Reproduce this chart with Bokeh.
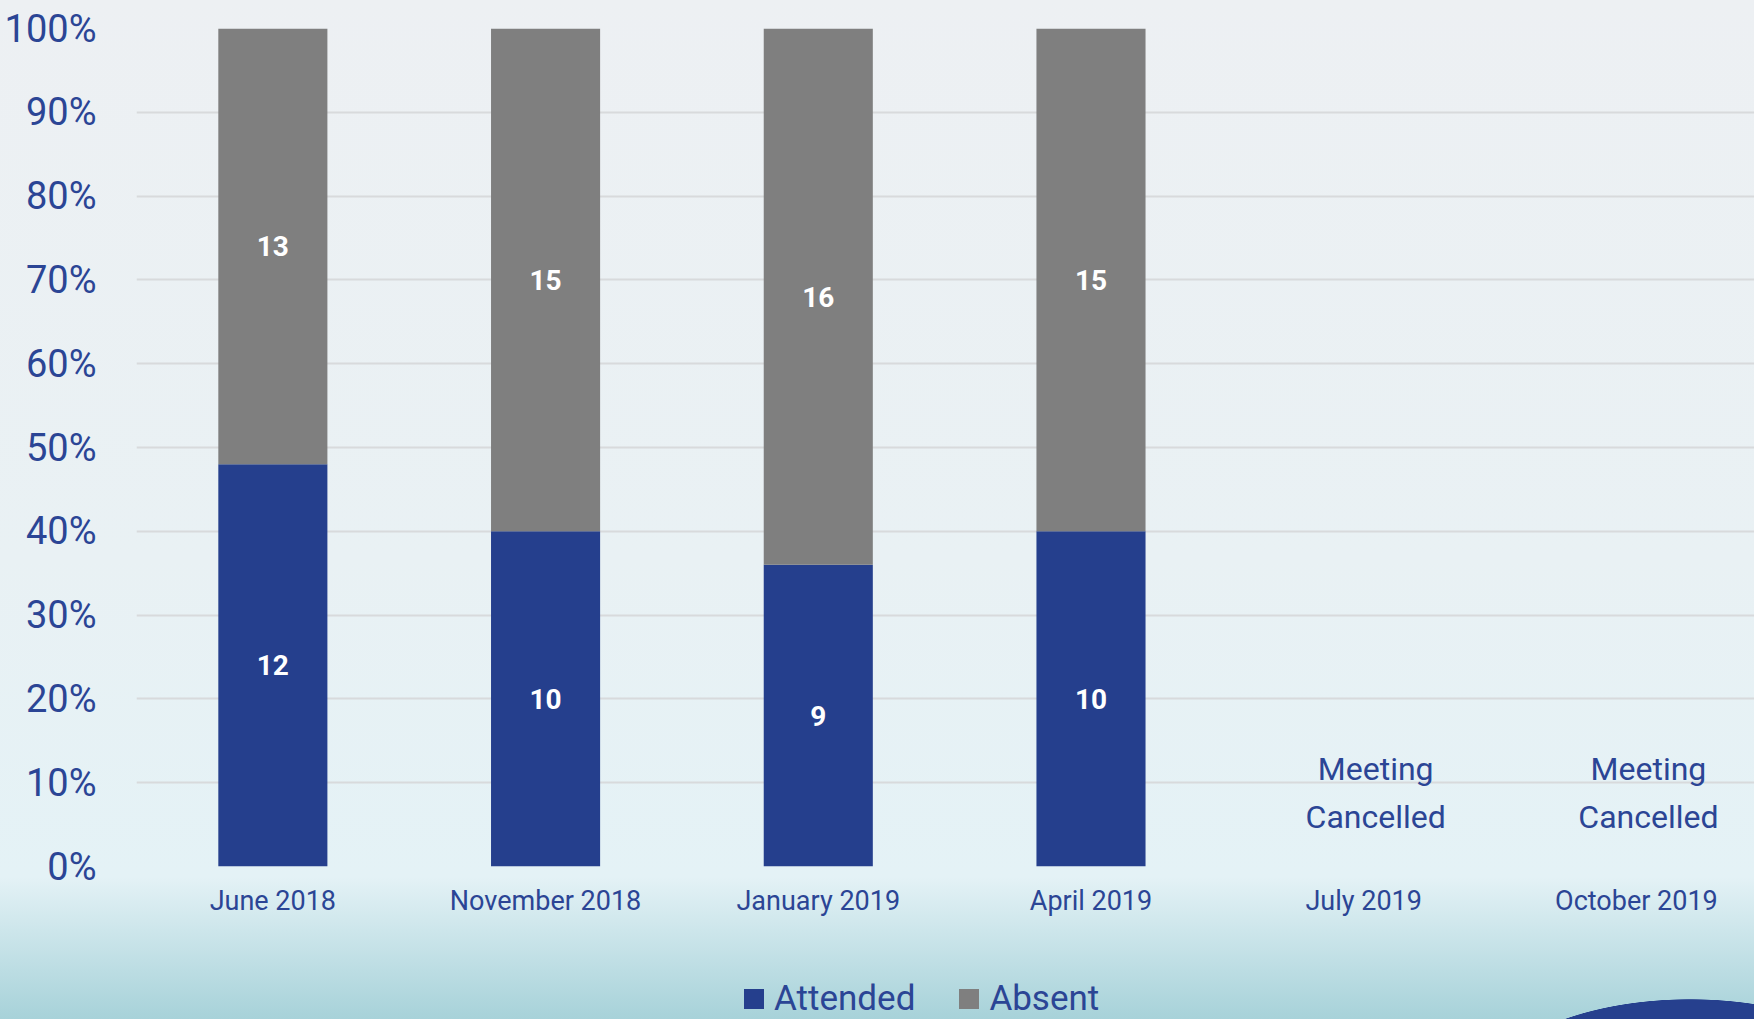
from bokeh.plotting import figure
from bokeh.layouts import column
from bokeh.models import (Range1d, FixedTicker, NumeralTickFormatter, Legend,
                          LegendItem, ColumnDataSource)
from bokeh.core.properties import value
from bokeh.embed import file_html
from bokeh.resources import INLINE

# ---- data ----
categories = ["June 2018", "November 2018", "January 2019", "April 2019",
              "July 2019", "October 2019"]
attended = [12, 10, 9, 10, 0, 0]
absent = [13, 15, 16, 15, 0, 0]
notes = ["", "", "", "", "Meeting\nCancelled", "Meeting\nCancelled"]
y_ticks = [0, 0.1, 0.2, 0.3, 0.4, 0.5, 0.6, 0.7, 0.8, 0.9, 1.0]
series = ["Attended", "Absent"]

BLUE = "#253F8D"
GREY = "#7F7F7F"
TXT = "#2B4595"
FONT = "Roboto"

W = 1754
H_MAIN, H_LEG = 940, 79

held_x, att_top, abs_top, att_mid, abs_mid, att_lbl, abs_lbl = [], [], [], [], [], [], []
for i, (a, b) in enumerate(zip(attended, absent)):
    t = a + b
    if t == 0:
        continue
    held_x.append(i)
    att_top.append(a / t)
    abs_top.append(1.0)
    att_mid.append(a / t / 2)
    abs_mid.append(a / t + b / t / 2)
    att_lbl.append(str(a))
    abs_lbl.append(str(b))

src = ColumnDataSource(dict(x=held_x, att_top=att_top, abs_top=abs_top,
                            att_mid=att_mid, abs_mid=abs_mid,
                            att_lbl=att_lbl, abs_lbl=abs_lbl))

note_x = [i for i, n in enumerate(notes) if n]
note_t = [n for n in notes if n]
note_src = ColumnDataSource(dict(x=note_x, y=[0.088] * len(note_x), t=note_t))

p = figure(width=W, height=H_MAIN, output_backend="svg", toolbar_location=None,
           x_range=Range1d(-0.5, 5.433), y_range=Range1d(0, 1),
           min_border_left=136, min_border_right=0, min_border_top=28,
           min_border_bottom=74)
p.background_fill_alpha = 0
p.border_fill_alpha = 0
p.outline_line_color = None

p.vbar(x="x", bottom=0, top="att_top", width=0.4, source=src,
       fill_color=BLUE, line_color=None)
p.vbar(x="x", bottom="att_top", top="abs_top", width=0.4, source=src,
       fill_color=GREY, line_color=None)

for ycol, tcol in (("att_mid", "att_lbl"), ("abs_mid", "abs_lbl")):
    p.text(x="x", y=ycol, text=tcol, source=src, text_color="white",
           text_font=value(FONT), text_font_style="bold",
           text_font_size="28px", text_align="center", text_baseline="middle")

p.text(x="x", y="y", text="t", source=note_src, text_color=TXT,
       text_font=value(FONT), text_font_size="32px", text_align="center",
       text_baseline="middle", x_offset=12, text_line_height=1.25)

# axes
p.xaxis.ticker = FixedTicker(ticks=list(range(len(categories))))
p.xaxis.major_label_overrides = {i: c for i, c in enumerate(categories)}
p.xaxis.major_label_text_font = FONT
p.xaxis.major_label_text_font_size = "27px"
p.xaxis.major_label_text_color = TXT
p.xaxis.major_label_standoff = 12
p.xaxis.axis_line_color = None
p.xaxis.major_tick_line_color = None
p.xaxis.minor_tick_line_color = None

p.yaxis.ticker = FixedTicker(ticks=y_ticks)
p.yaxis.formatter = NumeralTickFormatter(format="0%")
p.yaxis.major_label_text_font = FONT
p.yaxis.major_label_text_font_size = "38px"
p.yaxis.major_label_text_color = TXT
p.yaxis.major_label_standoff = 34
p.yaxis.axis_line_color = None
p.yaxis.major_tick_line_color = None
p.yaxis.minor_tick_line_color = None

p.xgrid.grid_line_color = None
p.ygrid.ticker = FixedTicker(ticks=y_ticks)
p.ygrid.grid_line_color = "#D8DADC"
p.ygrid.grid_line_width = 2

# legend strip: same series, drawn out of view so only the legend shows
p2 = figure(width=W, height=H_LEG, output_backend="svg", toolbar_location=None,
            x_range=Range1d(100, 101), y_range=Range1d(100, 101),
            x_axis_location=None, y_axis_location=None, min_border=0)
p2.background_fill_alpha = 0
p2.border_fill_alpha = 0
p2.outline_line_color = None
p2.grid.visible = False
k1 = p2.vbar(x="x", bottom=0, top="att_top", width=0.4, source=src,
             fill_color=BLUE, line_color=None)
k2 = p2.vbar(x="x", bottom="att_top", top="abs_top", width=0.4, source=src,
             fill_color=GREY, line_color=None)
legend = Legend(items=[LegendItem(label=series[0], renderers=[k1]),
                       LegendItem(label=series[1], renderers=[k2])],
                orientation="horizontal", location=(605, 0),
                label_text_font=FONT, label_text_font_size="35px",
                label_text_color=TXT, glyph_width=25, glyph_height=25,
                label_standoff=8, spacing=41, padding=0, margin=0,
                border_line_color=None, background_fill_alpha=0)
p2.add_layout(legend)

page = column(p, p2, spacing=0)
page.styles = {"background": "radial-gradient(210px 100px at 1690px 1099px, #26408E 99.4%, rgba(38,64,142,0) 100%), "
                             "linear-gradient(to bottom, #EDF0F3 0%, #E9F1F4 55%, #E4F2F6 86%, #A7D2D9 100%)"}

open("out.html", "w").write(file_html(page, INLINE))
